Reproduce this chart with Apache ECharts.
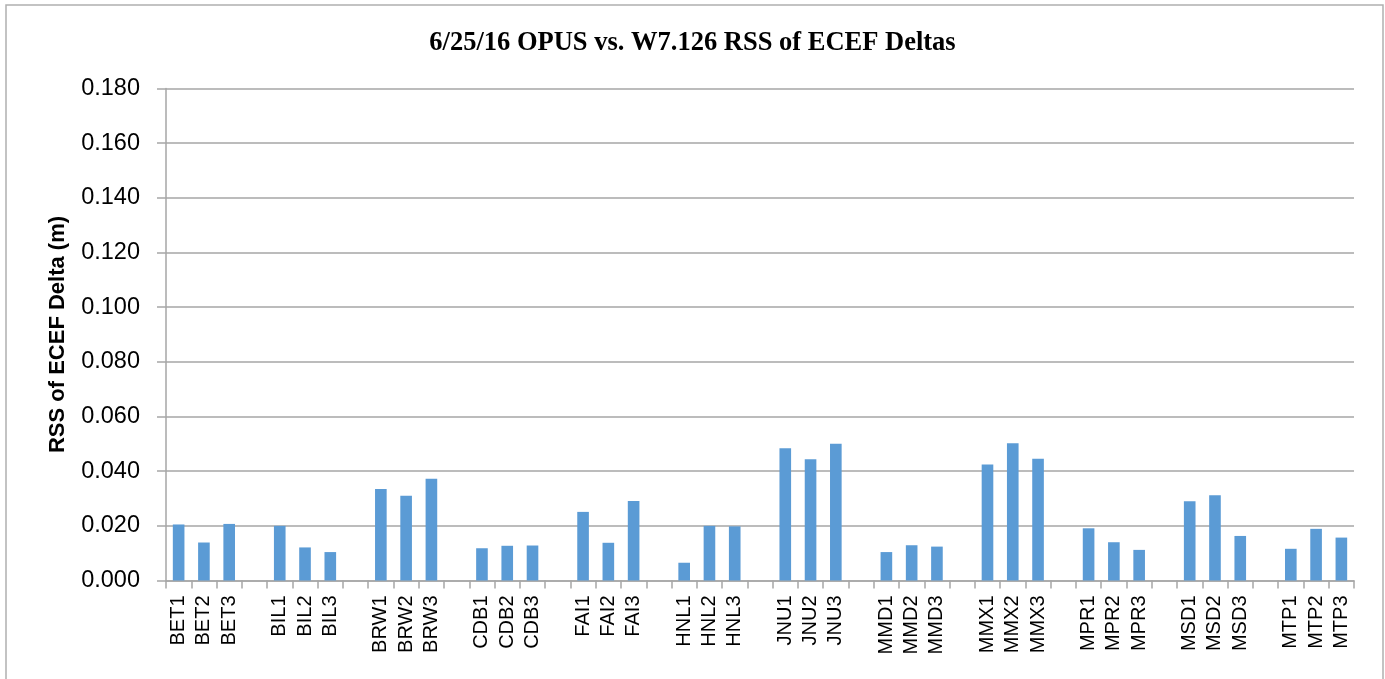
<!DOCTYPE html>
<html>
<head>
<meta charset="utf-8">
<title>6/25/16 OPUS vs. W7.126 RSS of ECEF Deltas</title>
<script src="https://cdn.jsdelivr.net/npm/echarts@6/dist/echarts.min.js"></script>
<style>
  html, body { margin: 0; padding: 0; background: #ffffff; }
  #chart { width: 1385px; height: 679px; }
</style>
</head>
<body>
<div id="chart"></div>
<script>
// Station sessions; empty strings are spacer slots between station groups.
const categories = [
  'BET1', 'BET2', 'BET3', '',
  'BIL1', 'BIL2', 'BIL3', '',
  'BRW1', 'BRW2', 'BRW3', '',
  'CDB1', 'CDB2', 'CDB3', '',
  'FAI1', 'FAI2', 'FAI3', '',
  'HNL1', 'HNL2', 'HNL3', '',
  'JNU1', 'JNU2', 'JNU3', '',
  'MMD1', 'MMD2', 'MMD3', '',
  'MMX1', 'MMX2', 'MMX3', '',
  'MPR1', 'MPR2', 'MPR3', '',
  'MSD1', 'MSD2', 'MSD3', '',
  'MTP1', 'MTP2', 'MTP3'
];

// RSS of ECEF delta (m) per session; null in spacer slots.
const rssValues = [
  0.0205, 0.0139, 0.0207, null,
  0.0200, 0.0121, 0.0104, null,
  0.0335, 0.0310, 0.0372, null,
  0.0118, 0.0127, 0.0128, null,
  0.0251, 0.0138, 0.0291, null,
  0.0065, 0.0200, 0.0198, null,
  0.0484, 0.0444, 0.0500, null,
  0.0104, 0.0129, 0.0124, null,
  0.0424, 0.0502, 0.0445, null,
  0.0191, 0.0140, 0.0112, null,
  0.0290, 0.0312, 0.0163, null,
  0.0116, 0.0189, 0.0157
];

// Value axis settings
const yMin = 0;
const yMax = 0.18;
const yStep = 0.02;

const chart = echarts.init(document.getElementById('chart'), null, { renderer: 'canvas' });

const gridColor = '#a6a6a6';
const sans = '"Liberation Sans", Arial, sans-serif';

chart.setOption({
  backgroundColor: '#ffffff',
  animation: false,
  title: {
    text: '6/25/16 OPUS vs. W7.126 RSS of ECEF Deltas',
    left: 'center',
    top: 25,
    textStyle: {
      fontFamily: '"Liberation Serif", "Times New Roman", serif',
      fontWeight: 'bold',
      fontSize: 26.5,
      color: '#000000'
    }
  },
  graphic: [{
    type: 'rect',
    shape: { x: 6, y: 5, width: 1377, height: 700 },
    style: { fill: 'none', stroke: '#b0b0b0', lineWidth: 1.5 },
    silent: true,
    z: -1
  }],
  grid: {
    left: 166,
    right: 31,
    top: 88.5,
    bottom: 98.5,
    containLabel: false
  },
  xAxis: {
    type: 'category',
    data: categories,
    boundaryGap: true,
    axisLine: { show: true, lineStyle: { color: gridColor, width: 1.5 } },
    axisTick: { show: true, alignWithLabel: false, interval: 0, length: 8, lineStyle: { color: gridColor, width: 1.5 } },
    axisLabel: {
      interval: 0,
      rotate: 90,
      margin: 15,
      fontFamily: sans,
      fontSize: 20,
      color: '#000000'
    },
    splitLine: { show: false }
  },
  yAxis: {
    type: 'value',
    min: yMin,
    max: yMax,
    interval: yStep,
    name: 'RSS of ECEF Delta (m)',
    nameLocation: 'middle',
    nameGap: 97,
    nameRotate: 90,
    nameTextStyle: {
      fontFamily: sans,
      fontWeight: 'bold',
      fontSize: 22,
      color: '#000000'
    },
    axisLine: { show: true, lineStyle: { color: gridColor, width: 1.5 } },
    axisTick: { show: true, inside: false, length: 9, lineStyle: { color: gridColor, width: 1.5 } },
    axisLabel: {
      margin: 26,
      fontFamily: sans,
      fontSize: 23.5,
      color: '#000000',
      formatter: function (v) { return v.toFixed(3); }
    },
    splitLine: { show: true, lineStyle: { color: gridColor, width: 1.5 } }
  },
  series: [{
    type: 'bar',
    data: rssValues,
    barWidth: '46%',
    itemStyle: { color: '#5b9bd5' }
  }]
});
</script>
</body>
</html>
